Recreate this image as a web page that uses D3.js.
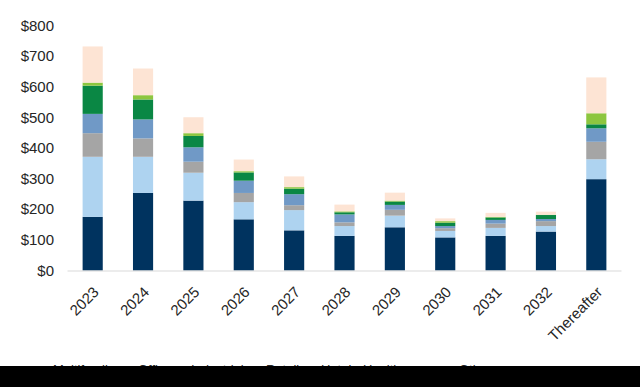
<!DOCTYPE html>
<html>
<head>
<meta charset="utf-8">
<script src="https://cdn.jsdelivr.net/npm/d3@7"></script>
<style>
  body { margin: 0; background: #fff; }
  svg { display: block; font-family: "Liberation Sans", Arial, sans-serif; }
</style>
</head>
<body>
<div id="chart"></div>
<script>
// Maturities by property type ($ millions)
const years = ["2023", "2024", "2025", "2026", "2027", "2028", "2029", "2030", "2031", "2032", "Thereafter"];
const types = ["Multifamily", "Office", "Industrial", "Retail", "Hotel", "Healthcare", "Other"];
const multifamily = [175, 253, 228, 167, 131, 113, 141, 108, 113, 127, 298];
const office      = [196, 118,  91,  56,  66,  32,  38,  21,  26,  18,  65];
const industrial  = [ 77,  60,  36,  30,  16,  12,  19,   9,  14,  16,  57];
const retail      = [ 63,  62,  47,  40,  36,  26,  16,   7,  12,   7,  44];
const hotel       = [ 92,  65,  37,  27,  18,   7,  11,  11,   8,  13,  13];
const healthcare  = [ 10,  14,   9,   4,   5,   3,   3,   5,   2,   1,  36];
const other       = [118,  87,  52,  38,  35,  22,  26,   9,  13,  10, 117];
const yTicks = [0, 100, 200, 300, 400, 500, 600, 700, 800];
const colors = ["#00335f", "#aed3f0", "#a5a5a5", "#7099c6", "#0a8744", "#8dc63f", "#fde4d4"];

const width = 640, height = 387;

const series = [multifamily, office, industrial, retail, hotel, healthcare, other];
const rows = years.map((yr, i) => {
  const r = {year: yr};
  types.forEach((t, j) => r[t] = series[j][i]);
  return r;
});

const svg = d3.select("#chart")
  .append("svg")
    .attr("width", width)
    .attr("height", height);

const x = d3.scaleBand()
  .domain(years)
  .range([67.5, 621.5])
  .paddingInner(0.6)
  .paddingOuter(0.3);

const y = d3.scaleLinear()
  .domain([0, 800])
  .range([270.5, 25.3]);

const color = d3.scaleOrdinal()
  .domain(types)
  .range(colors);

const stacked = d3.stack().keys(types)(rows);

// Bars
svg.append("g")
  .selectAll("g")
  .data(stacked)
  .join("g")
    .attr("fill", d => color(d.key))
  .selectAll("rect")
  .data(d => d)
  .join("rect")
    .attr("x", d => x(d.data.year))
    .attr("width", x.bandwidth())
    .attr("y", d => y(d[1]))
    .attr("height", d => y(d[0]) - y(d[1]));

// Baseline
svg.append("line")
  .attr("x1", 67.5)
  .attr("x2", 621.5)
  .attr("y1", y(0) + 0.5)
  .attr("y2", y(0) + 0.5)
  .attr("stroke", "#d9d9d9")
  .attr("stroke-width", 1);

// Y labels
svg.append("g")
  .selectAll("text")
  .data(yTicks)
  .join("text")
    .attr("x", 54)
    .attr("y", d => y(d))
    .attr("dy", "0.35em")
    .attr("text-anchor", "end")
    .attr("font-size", 15)
    .attr("fill", "#262626")
    .text(d => "$" + d);

// X labels, rotated
svg.append("g")
  .selectAll("text")
  .data(years)
  .join("text")
    .attr("transform", d => `translate(${x(d) + x.bandwidth() / 2 + 7},${293}) rotate(-45)`)
    .attr("text-anchor", "end")
    .attr("font-size", 15)
    .attr("fill", "#262626")
    .text(d => d);

// Legend (mostly hidden under the black band)
const legendX = [40, 125, 178, 253, 308, 350, 446];
const legend = svg.append("g");
legend.selectAll("rect")
  .data(types)
  .join("rect")
    .attr("x", (d, i) => legendX[i])
    .attr("y", 367)
    .attr("width", 9)
    .attr("height", 9)
    .attr("fill", d => color(d));
legend.selectAll("text")
  .data(types)
  .join("text")
    .attr("x", (d, i) => legendX[i] + 13)
    .attr("y", 374)
    .attr("font-size", 13)
    .attr("fill", "#262626")
    .text(d => d);

svg.append("rect")
  .attr("x", 0)
  .attr("y", 366)
  .attr("width", width)
  .attr("height", height - 366)
  .attr("fill", "#000");
</script>
</body>
</html>
